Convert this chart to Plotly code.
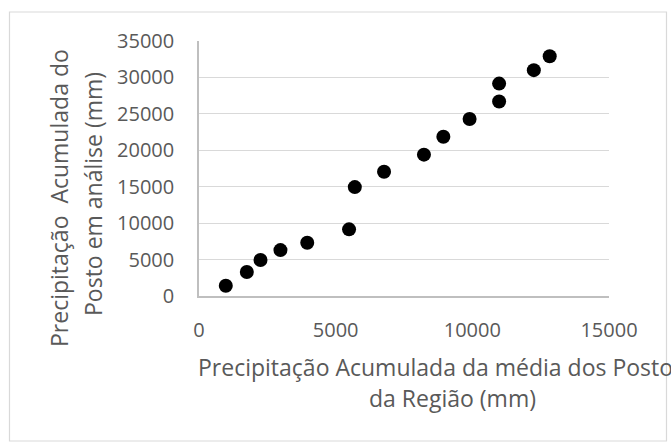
import plotly.graph_objects as go

# Data
x_regiao = [980, 1750, 2250, 2980, 3960, 5490, 5700, 6770, 8230, 8940, 9900, 10980, 10980, 12250, 12830]
y_posto = [1400, 3300, 4950, 6300, 7300, 9150, 14950, 17050, 19400, 21850, 24300, 26700, 29150, 31000, 32900]

x_ticks = [0, 5000, 10000, 15000]
y_ticks = [0, 5000, 10000, 15000, 20000, 25000, 30000, 35000]

x_title_1 = "Precipitação Acumulada da média dos Postos"
x_title_2 = "da Região (mm)"
y_title_1 = "Precipitação  Acumulada do"
y_title_2 = "Posto em análise (mm)"

W, H = 671, 442
L, R, T, B = 199, 62, 41, 146
pw, ph = W - L - R, H - T - B

def px(xp):
    return (xp - L) / pw

def py(yp):
    return (H - B - yp) / ph

FONT = "Open Sans"
GRAY = "#595959"
TS = 23

fig = go.Figure()
fig.add_trace(go.Scatter(
    x=x_regiao, y=y_posto, mode="markers",
    marker=dict(color="black", size=14, line=dict(width=0)),
    showlegend=False, cliponaxis=False,
))

fig.update_layout(
    width=W, height=H,
    margin=dict(l=L, r=R, t=T, b=B, pad=0),
    paper_bgcolor="white", plot_bgcolor="white",
    font=dict(family=FONT, color=GRAY, size=20),
    xaxis=dict(
        range=[0, 15000], tickvals=x_ticks, ticktext=[str(v) for v in x_ticks],
        showgrid=False, zeroline=False, showline=True, linecolor="#bfbfbf", linewidth=1.5,
        ticks="", ticklabelstandoff=15, tickfont=dict(size=20, color=GRAY),
    ),
    yaxis=dict(
        range=[0, 35000], tickvals=y_ticks, ticktext=[str(v) for v in y_ticks],
        showgrid=True, gridcolor="#d9d9d9", gridwidth=1.3, zeroline=False,
        showline=True, linecolor="#bfbfbf", linewidth=1.5,
        ticks="", ticklabelstandoff=19, tickfont=dict(size=20, color=GRAY),
    ),
    shapes=[dict(type="rect", xref="paper", yref="paper",
                 x0=px(9.5), x1=px(666.5), y0=py(12), y1=py(441),
                 line=dict(color="#d9d9d9", width=1.2), fillcolor="rgba(0,0,0,0)", layer="below")],
    annotations=[
        dict(text=x_title_1, xref="paper", yref="paper", x=px(196), y=py(367),
             xanchor="left", yanchor="middle", showarrow=False,
             font=dict(size=TS, color=GRAY, family=FONT)),
        dict(text=x_title_2, xref="paper", yref="paper", x=px(452), y=py(398),
             xanchor="center", yanchor="middle", showarrow=False,
             font=dict(size=TS, color=GRAY, family=FONT)),
        dict(text=y_title_1, xref="paper", yref="paper", x=px(59), y=py(198),
             xanchor="center", yanchor="middle", showarrow=False, textangle=-90,
             font=dict(size=TS, color=GRAY, family=FONT)),
        dict(text=y_title_2, xref="paper", yref="paper", x=px(93), y=py(194),
             xanchor="center", yanchor="middle", showarrow=False, textangle=-90,
             font=dict(size=TS, color=GRAY, family=FONT)),
    ],
)

fig.write_html("out.html", config={"displayModeBar": False},
               post_script="document.body.style.margin='0';")
